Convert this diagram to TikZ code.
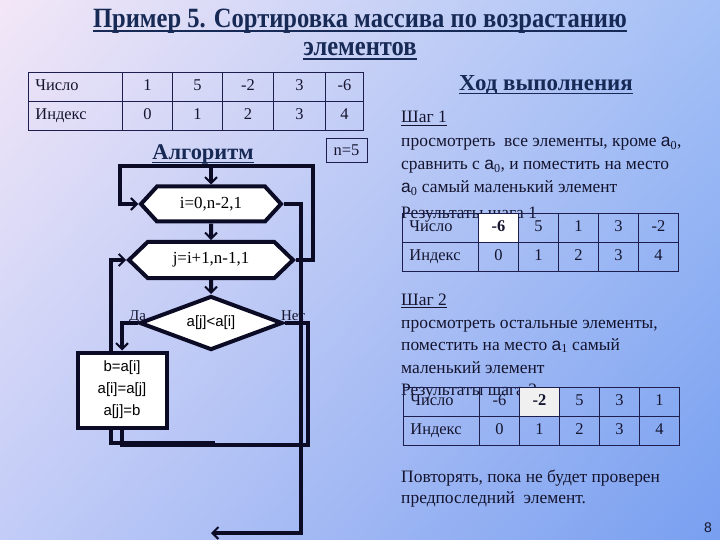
\documentclass[tikz,border=0pt]{standalone}
\usepackage{fontspec}
\setmainfont{Liberation Serif}
\setsansfont{Liberation Sans}
\usepackage{graphicx}
\usetikzlibrary{arrows.meta, positioning, matrix, shapes.geometric, shapes.symbols, shadings}

\definecolor{bgTL}{HTML}{F3E7F7}
\definecolor{bgTR}{HTML}{A4C0F6}
\definecolor{bgBL}{HTML}{C2CCF7}
\definecolor{bgBR}{HTML}{789FF0}
\definecolor{ink}{HTML}{0B0B26}
\definecolor{navy}{HTML}{172A55}
\definecolor{txt}{HTML}{14142E}
\definecolor{grid}{HTML}{1E1E4E}

\pgfdeclarelayer{bgshade}
\pgfdeclarelayer{wires}
\pgfsetlayers{bgshade,wires,main}

\newcommand{\cellfont}{\fontsize{16.5}{18}\selectfont}
\newcommand{\asub}[1]{\textsf{a}\textsubscript{#1}}

\tikzset{
  flow/.style={draw=ink, line width=4bp},
  arr/.style={-{Straight Barb[length=6bp, width=12bp, line width=2bp]}},
  block/.style={draw=ink, line width=4bp, fill=white, inner sep=0pt},
  loopbox/.style={block, signal, signal to=east and west, font=\fontsize{17}{17}\selectfont},
  cond/.style={block, diamond, aspect=2.6, minimum width=143bp, minimum height=54bp,
    font=\sffamily\fontsize{15}{15}\selectfont},
  act/.style={block, rectangle, minimum width=89bp, minimum height=75bp, align=center,
    font=\sffamily\fontsize{15}{22}\selectfont},
  lbl/.style={text=txt, inner sep=0pt, font=\fontsize{15}{15}\selectfont},
  ttl/.style={text=navy, inner sep=0pt, anchor=base},
  uline/.style={draw=navy, line width=1.6bp},
  body/.style={text=txt, inner sep=0pt, anchor=base west, font=\fontsize{17.5}{20}\selectfont},
  tbl/.style={matrix of nodes, anchor=north west, inner sep=0pt, outer sep=0pt,
    column sep=-0.8bp, row sep=-0.8bp,
    nodes={draw=grid, line width=0.8bp, minimum height=29bp, inner sep=0pt,
      text height=12bp, text depth=4bp, text=txt, font=\cellfont}},
  labcol/.style={nodes={text width=#1, align=left, inner xsep=7bp}},
  wcol/.style={nodes={minimum width=#1}},
  hit/.style={fill=#1, font=\cellfont\bfseries}
}

\begin{document}
\begin{tikzpicture}[x=1bp, y=-1bp]
% background
\begin{pgfonlayer}{bgshade}
\shade[upper left=bgTL, upper right=bgTR, lower left=bgBL, lower right=bgBR]
  (0,0) rectangle (720,540);
\end{pgfonlayer}

% title
\node[ttl, font=\bfseries\fontsize{28}{30}\selectfont] (ttlA) at (360,28)
  {\scalebox{0.88}[1]{Пример 5. Сортировка массива по возрастанию}};
\node[ttl, font=\bfseries\fontsize{28}{30}\selectfont] (ttlB) at (360,56)
  {\scalebox{0.88}[1]{элементов}};
\draw[uline] ([yshift=-3bp]ttlA.base west) -- ([yshift=-3bp]ttlA.base east);
\draw[uline] ([yshift=-3bp]ttlB.base west) -- ([yshift=-3bp]ttlB.base east);

% source array
\matrix[tbl, wcol=50bp, column 1/.style={labcol=80bp}, column 4/.style={wcol=51bp},
  column 5/.style={wcol=52bp}, column 6/.style={wcol=38bp}] (numtab) at (28,72) {
  Число  & 1 & 5 & -2 & 3 & -6 \\
  Индекс & 0 & 1 & 2  & 3 & 4  \\
};
\node[draw=grid, line width=0.8bp, minimum width=41bp, minimum height=24bp, inner sep=0pt,
  text=txt, font=\cellfont] (nval) at (346.5,150) {n=5};

% algorithm
\node[ttl, font=\bfseries\fontsize{22.5}{24}\selectfont] (algo) at (203,160) {Алгоритм};
\draw[uline, line width=1.4bp] ([yshift=-2.5bp]algo.base west) -- ([yshift=-2.5bp]algo.base east);

\node[loopbox, signal pointer angle=95, minimum width=140bp, minimum height=35bp]
  (ifor) at (211,204) {i=0,n-2,1};
\node[loopbox, signal pointer angle=88, minimum width=164bp, minimum height=36bp]
  (jfor) at (211,260) {j=i+1,n-1,1};
\node[cond] (test) at (211,323) {a[j]<a[i]};
\node[act] (swap) at (122,390) {b=a[i]\\a[i]=a[j]\\a[j]=b};

\coordinate (entry) at (211,166);
\coordinate (loopR) at (313,166);
\coordinate (loopL) at (120,166);
\coordinate (exitR) at (301,533);
\coordinate (exitE) at (211,533);
\coordinate (noR) at (308,445);
\coordinate (noL) at (122,445);
\coordinate (backR) at (215,443);
\coordinate (backL) at (111,443);

\begin{pgfonlayer}{wires}
\node[lbl, anchor=base west] (yes) at (129,320) {Да};
\node[lbl, anchor=base west] (no) at (281,320) {Нет};

\draw[flow, arr] (entry) -- (ifor.north);
\draw[flow, arr] (jfor.east) -| (loopR) -- (loopL) |- (ifor.west);
\draw[flow, arr] (ifor) -- (jfor);
\draw[flow, arr] (jfor) -- (test);
\draw[flow, arr] (ifor.east) -| (exitR) -- (exitE);
\draw[flow, arr] (test.west) -| (swap.north);
\draw[flow] (test.east) -| (noR) -- (noL) -- (swap.south);
\draw[flow, arr] (backR) -- (backL) |- (jfor.west);
\end{pgfonlayer}

% run
\node[ttl, font=\bfseries\fontsize{23}{25}\selectfont] (run) at (546,91) {Ход выполнения};
\draw[uline, line width=1.4bp] ([yshift=-2.5bp]run.base west) -- ([yshift=-2.5bp]run.base east);

\node[body] (s1h) at (401,123) {Шаг 1};
\draw[draw=txt, line width=0.8bp] ([yshift=-2bp]s1h.base west) -- ([yshift=-2bp]s1h.base east);
\node[body] (s1a) at (401,147) {просмотреть\ \ все элементы, кроме \asub{0},};
\node[body] (s1b) at (401,170) {сравнить с \asub{0}, и поместить на место};
\node[body] (s1c) at (401,193) {\asub{0} самый маленький элемент};
\node[body] (s1d) at (401,219) {Результаты шага 1};

\matrix[tbl, wcol=40bp, column 1/.style={labcol=62bp}] (res1) at (402,213) {
  Число  & |[hit=white]| -6 & 5 & 1 & 3 & -2 \\
  Индекс & 0 & 1 & 2 & 3 & 4 \\
};

\node[body] (s2h) at (401,305) {Шаг 2};
\draw[draw=txt, line width=0.8bp] ([yshift=-2bp]s2h.base west) -- ([yshift=-2bp]s2h.base east);
\node[body] (s2a) at (401,328) {просмотреть остальные элементы,};
\node[body] (s2b) at (401,350) {поместить на место \asub{1} самый};
\node[body] (s2c) at (401,373) {маленький элемент};
\node[body] (s2d) at (401,395) {Результаты шага 2};

\matrix[tbl, wcol=40bp, column 1/.style={labcol=62bp}] (res2) at (403,387) {
  Число  & -6 & |[hit=black!6]| -2 & 5 & 3 & 1 \\
  Индекс & 0 & 1 & 2 & 3 & 4 \\
};

\node[body] (rep1) at (401,482) {Повторять, пока не будет проверен};
\node[body] (rep2) at (401,503) {предпоследний\ \ элемент.};

\node[text=txt, font=\sffamily\fontsize{14}{14}\selectfont] (page) at (708,528) {8};
\end{tikzpicture}
\end{document}
